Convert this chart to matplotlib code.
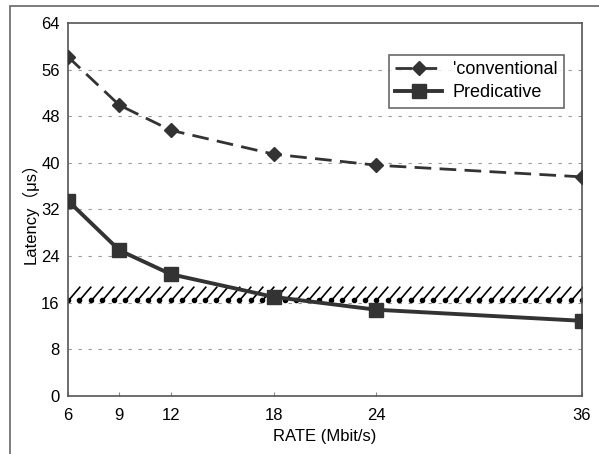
import numpy as np
import matplotlib
matplotlib.use('Agg')
import matplotlib.pyplot as plt
from matplotlib.patches import Rectangle

plt.rcParams['font.family'] = ['Liberation Sans', 'Noto Sans CJK JP', 'DejaVu Sans']

# данные
rate = [6, 9, 12, 18, 24, 36]
conventional = [58.2, 49.9, 45.6, 41.5, 39.6, 37.6]
predicative = [33.5, 25.0, 20.9, 17.0, 14.8, 12.9]
threshold = 16.4
y_ticks = [0, 8, 16, 24, 32, 40, 48, 56, 64]

fig = plt.figure(figsize=(5.99, 4.54), dpi=100)
ax = fig.add_axes([0.1135, 0.1278, 0.858, 0.8215])

# рамка вокруг всего рисунка
fig.patches.append(Rectangle((10 / 599, -0.1), 1.2, 1 - 6 / 454 + 0.1,
                             transform=fig.transFigure, fill=False,
                             edgecolor='#666666', linewidth=1.2))

for y in y_ticks[1:-1]:
    ax.axhline(y, color='#999999', linestyle=(0, (3, 6)), linewidth=0.8, zorder=0)

# заштрихованная граница
xs = np.linspace(6, 36, 46)
ax.plot(xs, [threshold] * len(xs), linestyle='none', marker='o', markersize=3,
        color='black', zorder=2)
ax.plot(xs, [threshold] * len(xs), linestyle='none', marker=[(0, 0), (0.85, 1)],
        markersize=20, markerfacecolor='none', markeredgecolor='black',
        markeredgewidth=1.2, zorder=2)

ax.plot(rate, conventional, color='#333333', linestyle=(0, (6, 3)), linewidth=2,
        marker='D', markersize=7, label="'conventional", zorder=3)
ax.plot(rate, predicative, color='#333333', linewidth=2.8,
        marker='s', markersize=10, label='Predicative', zorder=3)

ax.set_xlim(6, 36)
ax.set_ylim(0, 64)
ax.set_xticks(rate)
ax.set_yticks(y_ticks)
ax.tick_params(axis='x', direction='in', length=3, pad=9, labelsize=12, color='#888888')
ax.tick_params(axis='y', length=0, pad=6, labelsize=12)
for s in ax.spines.values():
    s.set_color('#555555')
    s.set_linewidth(1.2)

ax.set_xlabel('RATE (Mbit/s)', fontsize=12, labelpad=4)
ax.set_ylabel('Latency（μs）', fontsize=12, labelpad=2)

leg = ax.legend(loc='upper right', bbox_to_anchor=(0.965, 0.915), fontsize=13,
                frameon=True, fancybox=False, edgecolor='#444444',
                handlelength=2.6, handletextpad=0.6, borderaxespad=0,
                borderpad=0.35, labelspacing=0.35)
leg.get_frame().set_linewidth(1.2)

fig.savefig('out.png', dpi=100)
